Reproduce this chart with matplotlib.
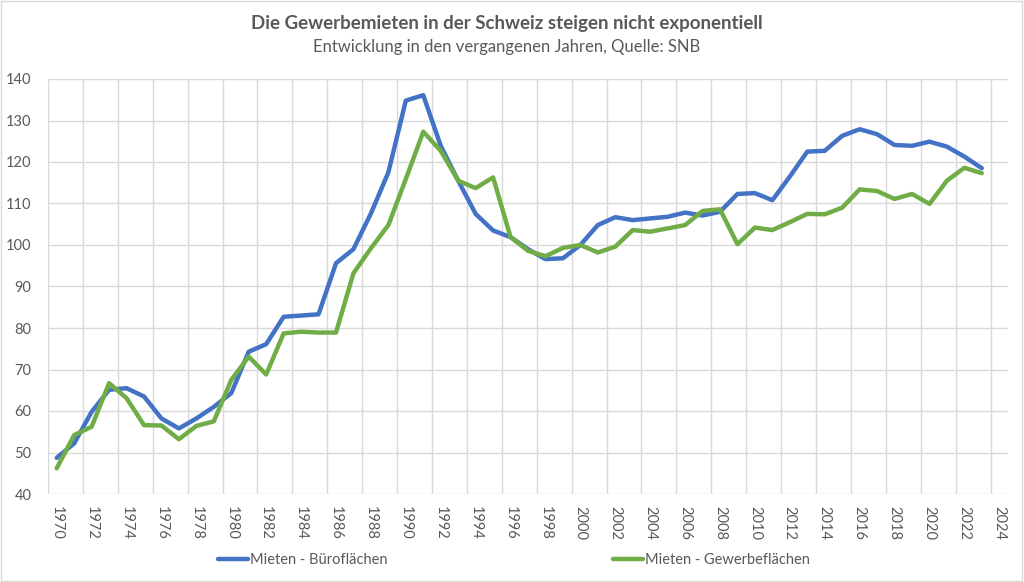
import matplotlib
matplotlib.use('Agg')
import matplotlib.pyplot as plt
from matplotlib.patches import Rectangle
import numpy as np

plt.rcParams['font.family'] = ['Lato', 'DejaVu Sans']

# data (index values)
years = list(range(1970, 2024))
buero = [48.7, 52.2, 59.8, 65.1, 65.5, 63.5, 58.2, 55.8, 58.2, 61.0,
         64.3, 74.3, 76.1, 82.7, 83.0, 83.3, 95.6, 99.0, 107.6, 117.5,
         134.8, 136.1, 123.9, 115.5, 107.5, 103.5, 101.9, 99.0, 96.6, 96.8,
         100.0, 104.8, 106.7, 106.0, 106.4, 106.8, 107.8, 107.1, 108.0, 112.3,
         112.5, 110.8, 116.5, 122.5, 122.7, 126.3, 127.9, 126.7, 124.1, 123.9,
         124.9, 123.7, 121.3, 118.5]
gewerbe = [46.2, 54.2, 56.2, 66.7, 63.1, 56.6, 56.5, 53.2, 56.4, 57.5,
           67.5, 73.1, 68.8, 78.7, 79.1, 78.9, 78.9, 93.2, 99.2, 104.8,
           115.9, 127.3, 122.7, 115.5, 113.7, 116.3, 101.9, 98.6, 97.3, 99.3,
           100.0, 98.2, 99.6, 103.6, 103.2, 104.0, 104.8, 108.2, 108.6, 100.2,
           104.2, 103.6, 105.5, 107.5, 107.4, 109.0, 113.4, 113.0, 111.1, 112.3,
           109.9, 115.5, 118.6, 117.3]
tick_years = list(range(1970, 2025, 2))

text_col = '#595959'
grid_col = '#d9d9d9'

fig = plt.figure(figsize=(10.24, 5.82), dpi=100)
ax = fig.add_axes([48 / 1024, 88 / 582, 960 / 1024, 415 / 582])

ax.plot(years, buero, color='#4472C4', linewidth=3.2, label='Mieten - Büroflächen',
        solid_joinstyle='round', solid_capstyle='round', zorder=3)
ax.plot(years, gewerbe, color='#70AD47', linewidth=3.2, label='Mieten - Gewerbeflächen',
        solid_joinstyle='round', solid_capstyle='round', zorder=3)

ax.set_xlim(1969.5, 2024.5)
ax.set_ylim(40, 140)
ax.set_yticks(range(40, 141, 10))
ax.set_xticks(tick_years)
ax.set_xticks(np.arange(1969.5, 2024, 2), minor=True)
ax.set_xticklabels([str(y) for y in tick_years], rotation=-90)

ax.grid(True, axis='y', color=grid_col, linewidth=1)
ax.grid(True, axis='x', which='minor', color=grid_col, linewidth=1)
ax.grid(False, axis='x', which='major')
ax.set_axisbelow(True)
for s in ax.spines.values():
    s.set_visible(False)
ax.tick_params(axis='both', which='both', length=0, colors=text_col, labelsize=10.5)
ax.tick_params(axis='y', pad=12)
ax.tick_params(axis='x', pad=9)

fig.text(0.495, 0.960, 'Die Gewerbemieten in der Schweiz steigen nicht exponentiell',
         ha='center', va='center', fontsize=13.5, fontweight='bold', color=text_col)
fig.text(0.495, 0.920, 'Entwicklung in den vergangenen Jahren, Quelle: SNB',
         ha='center', va='center', fontsize=12, color=text_col)

leg = fig.legend(loc='center', bbox_to_anchor=(0.502, 0.038), ncol=2, frameon=False,
                 fontsize=10.5, handlelength=2.0, handletextpad=0.15, columnspacing=15.5)
for t in leg.get_texts():
    t.set_color(text_col)

fig.patches.append(Rectangle((0.001, 0.002), 0.997, 0.996, transform=fig.transFigure,
                             fill=False, edgecolor=grid_col, linewidth=1))

fig.savefig('out.png', dpi=100, facecolor='white')
